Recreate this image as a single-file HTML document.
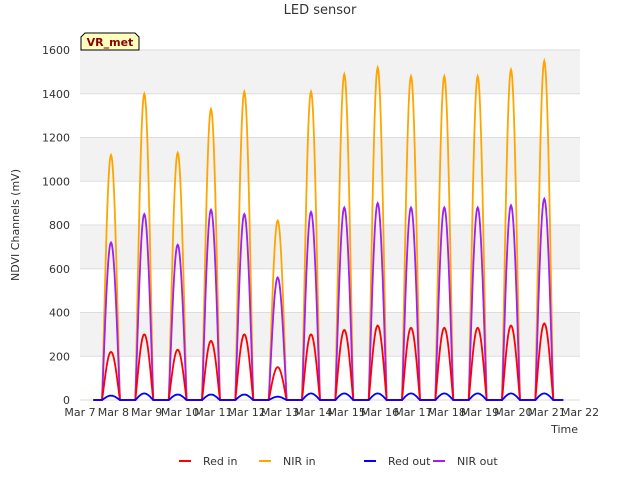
<!DOCTYPE html>
<html><head><meta charset="utf-8"><style>
body{margin:0;background:#fff;font-family:"Liberation Sans","DejaVu Sans",sans-serif}
</style></head><body>
<svg id="c" width="640" height="480" xmlns="http://www.w3.org/2000/svg" font-family="'DejaVu Sans','Liberation Sans',sans-serif"></svg>
<script>
const days=["Mar 7","Mar 8","Mar 9","Mar 10","Mar 11","Mar 12","Mar 13","Mar 14","Mar 15","Mar 16","Mar 17","Mar 18","Mar 19","Mar 20","Mar 21","Mar 22"];
const yTicks=[0,200,400,600,800,1000,1200,1400,1600];
const nirIn=[1120,1400,1130,1330,1410,820,1410,1490,1520,1480,1480,1480,1510,1550];
const nirOut=[720,850,710,870,850,560,860,880,900,880,880,880,890,920];
const redIn=[220,300,230,270,300,150,300,320,340,330,330,330,340,350];
const redOut=[20,30,25,25,25,15,30,30,30,30,30,30,30,30];
const NS="http://www.w3.org/2000/svg";
const svg=document.getElementById('c');
const L=80,R=580,T=50,B=400;
const xs=d=>L+(d)*(R-L)/15;
const ys=v=>B-v*(B-T)/1600;
function mk(tag,attrs,parent){const e=document.createElementNS(NS,tag);for(const k in attrs)e.setAttribute(k,attrs[k]);(parent||svg).appendChild(e);return e;}
for(let i=0;i<8;i++){
 const r=mk('rect',{x:L,y:ys(yTicks[i+1]),width:R-L,height:ys(yTicks[i])-ys(yTicks[i+1]),fill:i%2?'#f2f2f2':'#ffffff'});
 
 
}
yTicks.forEach(v=>{
 const l=mk('line',{x1:L,x2:R,y1:ys(v),y2:ys(v),stroke:'#dddddd'});
 
 
 const t=mk('text',{x:L-10,y:ys(v)+4,'text-anchor':'end','font-size':11,fill:'#333'});
 t.textContent=v;
 
 
});
days.forEach((d,i)=>{
 const t=mk('text',{x:xs(i),y:416,'text-anchor':'middle','font-size':11,fill:'#333'});
 t.textContent=d;
 
 
});
function series(arr,color,name){
 let pts=[[xs(0.4),ys(0)]];
 arr.forEach((p,i)=>{
  const c=i+0.93,h=0.27;
  pts.push([xs(c-h),ys(0)]);
  for(let k=0;k<=30;k++){const u=-1+k/15;const v=p*Math.pow(Math.max(0,Math.cos(u*Math.PI/2)),1.1);pts.push([xs(c+u*h),ys(v)]);}
 });
 pts.push([xs(14.5),ys(0)]);
 const pl=mk('polyline',{points:pts.map(p=>p[0].toFixed(1)+','+p[1].toFixed(1)).join(' '),fill:'none',stroke:color,'stroke-width':1.8});
 
 
}
series(nirIn,'#ffa500','nir-in-line');
series(nirOut,'#a020f0','nir-out-line');
series(redIn,'#ff0000','red-in-line');
series(redOut,'#0000ff','red-out-line');
let t=mk('text',{x:320,y:14,'text-anchor':'middle','font-size':13,fill:'#333'});t.textContent='LED sensor';


t=mk('text',{x:19,y:225,'text-anchor':'middle','font-size':11,fill:'#333',transform:'rotate(-90 19 225)'});t.textContent='NDVI Channels (mV)';


t=mk('text',{x:578,y:433,'text-anchor':'end','font-size':11,fill:'#333'});t.textContent='Time';


const g=mk('g',{});


mk('path',{d:'M81,50 L81,37 L85,33 L135,33 L139,37 L139,50 Z',fill:'#ffffc0',stroke:'#000','stroke-width':1},g);
const bt=mk('text',{x:110,y:46,'text-anchor':'middle','font-size':11,'font-weight':'bold',fill:'#8b0000'},g);bt.textContent='VR_met';
const leg=[['Red in','#ff0000',185],['NIR in','#ffa500',265],['Red out','#0000ff',370],['NIR out','#a020f0',439]];
leg.forEach(([n,c,x])=>{
 const lg=mk('g',{});
 
 
 mk('line',{x1:x-6,x2:x+6,y1:461,y2:461,stroke:c,'stroke-width':2},lg);
 const tt=mk('text',{x:x+18,y:465,'font-size':11,fill:'#333'},lg);tt.textContent=n;
});
</script>
</body></html>
